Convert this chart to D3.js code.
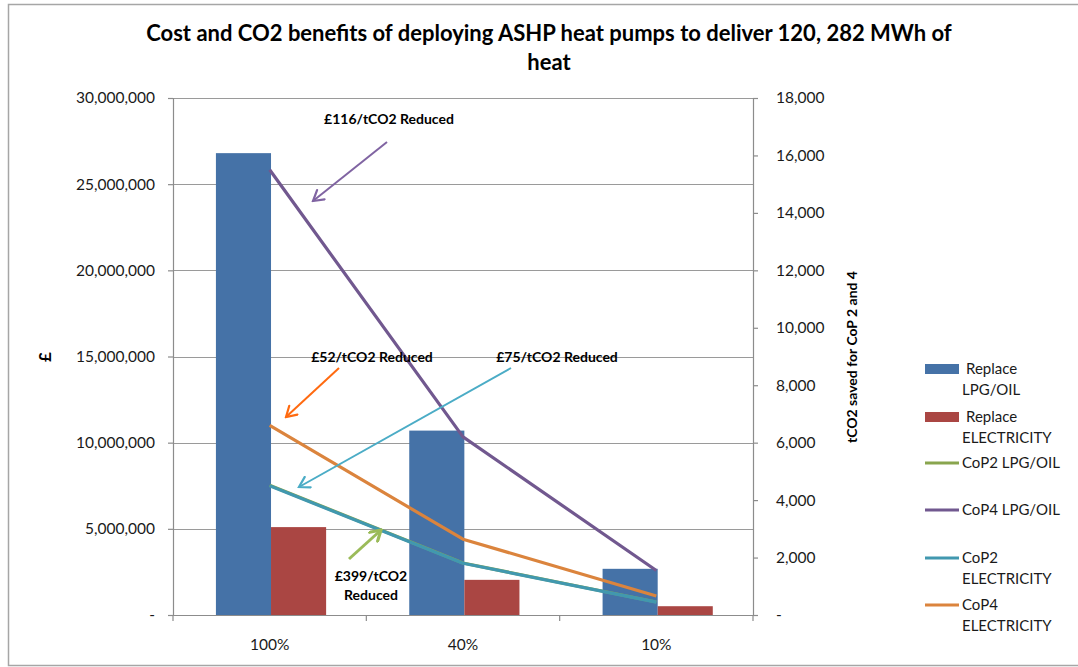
<!DOCTYPE html>
<html>
<head>
<meta charset="utf-8">
<script src="https://cdn.jsdelivr.net/npm/d3@7"></script>
<style>
  html, body { margin: 0; padding: 0; background: #fff; }
  svg { display: block; font-family: Lato, "Open Sans", sans-serif; }
</style>
</head>
<body>
<svg id="chart" width="1078" height="667"></svg>
<script>
// ---------------- data ----------------
const categories = ["100%", "40%", "10%"];
const replaceLpgOil = [26800000, 10700000, 2680000];
const replaceElectricity = [5100000, 2040000, 510000];
const cop2LpgOil = [4520, 1810, 452];
const cop4LpgOil = [15500, 6200, 1550];
const cop2Electricity = [4500, 1800, 450];
const cop4Electricity = [6600, 2640, 660];
const leftTicks = [0, 5000000, 10000000, 15000000, 20000000, 25000000, 30000000];
const rightTicks = [0, 2000, 4000, 6000, 8000, 10000, 12000, 14000, 16000, 18000];
const titleLines = ["Cost and CO2 benefits of deploying ASHP heat pumps to deliver 120, 282 MWh of", "heat"];
const leftLabel = "£";
const rightLabel = "tCO2 saved for CoP 2 and 4";

const barSeries = [
  { name: "Replace LPG/OIL", lines: ["Replace", "LPG/OIL"], values: replaceLpgOil, color: "#4572A7" },
  { name: "Replace ELECTRICITY", lines: ["Replace", "ELECTRICITY"], values: replaceElectricity, color: "#AA4643" }
];
const lineSeries = [
  { name: "CoP2 LPG/OIL", lines: ["CoP2 LPG/OIL"], values: cop2LpgOil, color: "#89A54E" },
  { name: "CoP4 LPG/OIL", lines: ["CoP4 LPG/OIL"], values: cop4LpgOil, color: "#71588F" },
  { name: "CoP2 ELECTRICITY", lines: ["CoP2", "ELECTRICITY"], values: cop2Electricity, color: "#4198AF" },
  { name: "CoP4 ELECTRICITY", lines: ["CoP4", "ELECTRICITY"], values: cop4Electricity, color: "#DB843D" }
];

// annotations (free-floating callouts), positions in pixels
const annotations = [
  { text: ["£116/tCO2 Reduced"], tx: 389, ty: 119, from: [387, 142], to: [313, 201], color: "#8064A2", w: 2 },
  { text: ["£52/tCO2 Reduced"], tx: 372, ty: 357, from: [339, 368], to: [286, 417], color: "#FF6A10", w: 2 },
  { text: ["£75/tCO2 Reduced"], tx: 557, ty: 357, from: [511, 368], to: [299, 487], color: "#4BACC6", w: 2 },
  { text: ["£399/tCO2", "Reduced"], tx: 371, ty: 576, from: [349, 559], to: [381, 530], color: "#9BBB59", w: 3 }
];

// ---------------- layout ----------------
const svg = d3.select("#chart");
const plot = { left: 173, right: 753, top: 98, bottom: 615 };
const textColor = "#1a1a1a";

// chart border
svg.append("rect")
  .attr("x", 8.5).attr("y", 4.5).attr("width", 1080).attr("height", 661)
  .attr("fill", "#fff").attr("stroke", "#a6a6a6").attr("stroke-width", 1.5);

const x = d3.scaleBand().domain(categories).range([plot.left, plot.right]).paddingInner(0).paddingOuter(0);
const bw = x.bandwidth();
const x1 = d3.scaleBand().domain(barSeries.map(d => d.name)).range([bw * 0.222, bw * 0.792]).padding(0);
const yL = d3.scaleLinear().domain([0, 30000000]).range([plot.bottom, plot.top]);
const yR = d3.scaleLinear().domain([0, 18000]).range([plot.bottom, plot.top]);

const fmt = d3.format(",");
const tickFmt = v => v === 0 ? "-" : fmt(v);

// gridlines (from left axis)
svg.append("g").selectAll("line").data(leftTicks.filter(t => t > 0)).join("line")
  .attr("x1", plot.left).attr("x2", plot.right)
  .attr("y1", d => Math.round(yL(d)) + 0.5).attr("y2", d => Math.round(yL(d)) + 0.5)
  .attr("stroke", "#9a9a9a").attr("stroke-width", 1.2);

// bars
const barData = [];
barSeries.forEach(s => s.values.forEach((v, i) => barData.push({ s, cat: categories[i], v })));
svg.append("g").selectAll("rect").data(barData).join("rect")
  .attr("x", d => x(d.cat) + x1(d.s.name))
  .attr("width", x1.bandwidth())
  .attr("y", d => yL(d.v))
  .attr("height", d => yL(0) - yL(d.v))
  .attr("fill", d => d.s.color);

// axes
const axisColor = "#8c8c8c";
const gL = svg.append("g").attr("transform", `translate(${plot.left},0)`)
  .call(d3.axisLeft(yL).tickValues(leftTicks).tickFormat(tickFmt).tickSize(5).tickPadding(13));
const gR = svg.append("g").attr("transform", `translate(${plot.right},0)`)
  .call(d3.axisRight(yR).tickValues(rightTicks).tickFormat(tickFmt).tickSize(5).tickPadding(18));
const gX = svg.append("g").attr("transform", `translate(0,${plot.bottom})`)
  .call(d3.axisBottom(x).tickSize(0).tickPadding(24));
// category boundary ticks on x axis
svg.append("g").selectAll("line")
  .data(categories.map(c => x(c)).concat([plot.right]))
  .join("line")
  .attr("x1", d => d).attr("x2", d => d)
  .attr("y1", plot.bottom).attr("y2", plot.bottom + 6)
  .attr("stroke", axisColor).attr("stroke-width", 1.2);

[gL, gR, gX].forEach(g => {
  g.select(".domain").attr("stroke", axisColor).attr("stroke-width", 1.2);
  g.selectAll(".tick line").attr("stroke", axisColor).attr("stroke-width", 1.2);
  g.selectAll(".tick text").attr("fill", textColor).attr("font-size", 15.5)
    .attr("font-family", "Lato, 'Open Sans', sans-serif");
});

// lines
const lineGen = d3.line().x((d, i) => x(categories[i]) + bw / 2).y(d => yR(d));
svg.append("g").selectAll("path").data(lineSeries).join("path")
  .attr("d", d => lineGen(d.values))
  .attr("fill", "none").attr("stroke", d => d.color)
  .attr("stroke-width", 3.2).attr("stroke-linejoin", "round");

// title
const title = svg.append("g");
titleLines.forEach((t, i) => {
  title.append("text").attr("x", 549).attr("y", 41 + i * 29)
    .attr("text-anchor", "middle").attr("font-weight", "bold").attr("font-size", 20)
    .attr("fill", "#000").text(t);
});
// fit title width to reference
const t0 = title.select("text").node();
const w0 = t0.getComputedTextLength();
const tfs = 20 * 821 / w0;
title.selectAll("text").attr("font-size", Math.min(tfs, 22));

// axis titles
svg.append("text").attr("transform", "translate(51,357) rotate(-90)")
  .attr("text-anchor", "middle").attr("font-weight", "bold").attr("font-size", 17)
  .text(leftLabel);
svg.append("text").attr("transform", "translate(857,357) rotate(-90)")
  .attr("text-anchor", "middle").attr("font-weight", "bold").attr("font-size", 14)
  .text(rightLabel);

// annotations
const defs = svg.append("defs");
annotations.forEach((a, k) => {
  const id = "arrow" + k;
  defs.append("marker").attr("id", id).attr("viewBox", "0 0 14 14")
    .attr("refX", 12).attr("refY", 7).attr("markerWidth", 14).attr("markerHeight", 14)
    .attr("markerUnits", "userSpaceOnUse").attr("orient", "auto")
    .append("path").attr("d", "M2,1 L12,7 L2,13")
    .attr("fill", "none").attr("stroke", a.color).attr("stroke-width", a.w + 0.2)
    .attr("stroke-linecap", "round").attr("stroke-linejoin", "miter");
  svg.append("line")
    .attr("x1", a.from[0]).attr("y1", a.from[1]).attr("x2", a.to[0]).attr("y2", a.to[1])
    .attr("stroke", a.color).attr("stroke-width", a.w)
    .attr("marker-end", `url(#${id})`);
  a.text.forEach((t, j) => {
    svg.append("text").attr("x", a.tx).attr("y", a.ty + j * 19 + 5)
      .attr("text-anchor", "middle").attr("font-weight", "bold").attr("font-size", 14)
      .attr("fill", "#000").text(t);
  });
});

// legend
const legendItems = [
  { s: barSeries[0], y: 369, type: "bar" },
  { s: barSeries[1], y: 417, type: "bar" },
  { s: lineSeries[0], y: 463, type: "line" },
  { s: lineSeries[1], y: 510, type: "line" },
  { s: lineSeries[2], y: 558, type: "line" },
  { s: lineSeries[3], y: 605, type: "line" }
];
const lg = svg.append("g");
legendItems.forEach(it => {
  if (it.type === "bar") {
    lg.append("rect").attr("x", 925).attr("y", it.y - 5).attr("width", 34).attr("height", 10)
      .attr("fill", it.s.color);
  } else {
    lg.append("line").attr("x1", 925).attr("x2", 959).attr("y1", it.y).attr("y2", it.y)
      .attr("stroke", it.s.color).attr("stroke-width", 3);
  }
  it.s.lines.forEach((t, j) => {
    lg.append("text").attr("x", j === 0 && it.type === "bar" ? 966 : 962)
      .attr("y", it.y + 5 + j * 21).attr("font-size", 15).attr("fill", textColor).text(t);
  });
});
</script>
</body>
</html>
